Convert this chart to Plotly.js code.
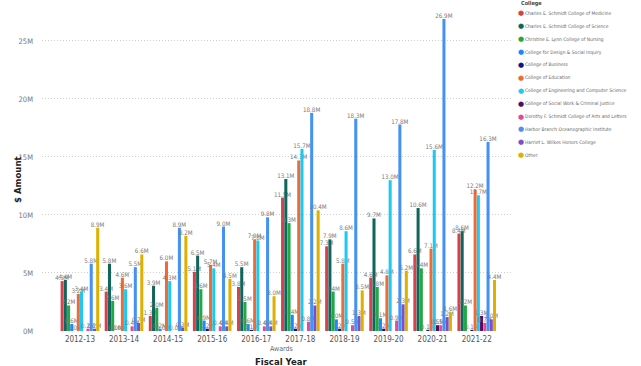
<!DOCTYPE html>
<html>
<head>
<meta charset="utf-8">
<script src="https://cdn.plot.ly/plotly-3.0.1.min.js"></script>
<style>
  html, body { margin: 0; padding: 0; background: #ffffff; }
  #chart { width: 641px; height: 366px; }
</style>
</head>
<body>
<div id="chart"></div>
<script>
// Fiscal years (categories)
const years = ['2012-13','2013-14','2014-15','2015-16','2016-17','2017-18','2018-19','2019-20','2020-21','2021-22'];

// Award amounts in millions of dollars, per college
const medicine    = [4.3, 3.4, 1.3, 5.1, 3.8, 11.5, 7.3, 4.6, 6.6, 8.4];
const science     = [4.4, 5.8, 3.9, 6.5, 5.5, 13.1, 7.9, 9.7, 10.6, 8.6];
const nursing     = [2.2, 2.6, 2.0, 3.6, 2.5, 9.3, 3.4, 3.8, 5.4, 2.2];
const design      = [0.6, 0.0, 0.2, 0.9, 0.6, 1.4, 1.0, 1.1, null, null];
const business    = [0.0, 0.0, 0.0, 0.2, 0.1, 0.2, 0.2, 0.2, 0.1, 0.1];
const education   = [3.2, 4.6, 6.0, 5.7, 7.9, 14.7, 5.8, 4.8, 7.1, 12.2];
const engineering = [3.4, 3.6, 4.3, 5.4, 7.8, 15.7, 8.6, 13.0, 15.6, 11.7];
const socialWork  = [null, null, null, null, null, null, null, null, 0.5, 1.3];
const artsLetters = [0.2, 0.4, 0.0, 0.4, 0.4, 0.8, 0.5, 0.9, 0.5, 0.7];
const harborBranch= [5.8, 5.5, 8.9, 9.0, 9.8, 18.8, 18.3, 17.8, 26.9, 16.3];
const honors      = [0.2, 0.7, 0.3, 0.4, 0.4, 2.2, 1.3, 2.3, 1.2, 1.0];
const other       = [8.9, 6.6, 8.2, 4.5, 3.0, 10.4, 3.5, 5.2, 1.6, 4.4];

// Y axis ticks
const yTickVals = [0, 5, 10, 15, 20, 25];
const yTickText = ['0M', '5M', '10M', '15M', '20M', '25M'];

const seriesNames = [
  'Charles E. Schmidt College of Medicine',
  'Charles E. Schmidt College of Science',
  'Christine E. Lynn College of Nursing',
  'College for Design & Social Inquiry',
  'College of Business',
  'College of Education',
  'College of Engineering and Computer Science',
  'College of Social Work & Criminal Justice',
  'Dorothy F. Schmidt College of Arts and Letters',
  'Harbor Branch Oceanographic Institute',
  'Harriet L. Wilkes Honors College',
  'Other'
];
const seriesValues = [medicine, science, nursing, design, business, education,
  engineering, socialWork, artsLetters, harborBranch, honors, other];
const seriesColors = ['#D9404A','#11665C','#1FA845','#1E86FF','#12128A','#F06A33',
  '#1DC9F2','#5A0A5E','#E8479A','#4592F2','#7B4FC6','#E0B000'];

const FONT = '"DejaVu Sans Condensed", "DejaVu Sans", sans-serif';

const traces = seriesNames.map((name, i) => ({
  type: 'bar',
  name: name,
  x: years,
  y: seriesValues[i],
  marker: { color: seriesColors[i] },
  texttemplate: '%{y:.1f}M',
  textposition: 'outside',
  textangle: 0,
  constraintext: 'none',
  cliponaxis: false,
  textfont: { family: FONT, size: 6.2, color: '#7a7a7a' },
  hoverinfo: 'x+y+name',
  showlegend: false
}));

// Plot area geometry (for placing the custom legend)
const L = 42, R = 129, T = 10, B = 35, W = 641, H = 366;
const pw = W - L - R, ph = H - T - B;
const px = v => (v - L) / pw;
const py = v => (H - B - v) / ph;

const annotations = [];
annotations.push({
  xref: 'paper', yref: 'paper', x: px(519), y: py(4), xanchor: 'left', yanchor: 'middle',
  text: '<b>College</b>', showarrow: false,
  font: { family: FONT, size: 5.5, color: '#444' }
});
seriesNames.forEach((name, i) => {
  const yy = 13.3 + 12.9 * i;
  annotations.push({
    xref: 'paper', yref: 'paper', x: px(516), y: py(yy), xanchor: 'left', yanchor: 'middle',
    text: '●', showarrow: false,
    font: { family: 'DejaVu Sans', size: 7, color: seriesColors[i] }
  });
  annotations.push({
    xref: 'paper', yref: 'paper', x: px(523), y: py(yy), xanchor: 'left', yanchor: 'middle',
    text: name, showarrow: false,
    font: { family: FONT, size: 4.9, color: '#666' }
  });
});
annotations.push({
  xref: 'paper', yref: 'paper', x: px(281), y: py(349), xanchor: 'center', yanchor: 'middle',
  text: 'Awards', showarrow: false,
  font: { family: FONT, size: 7, color: '#666' }
});
annotations.push({
  xref: 'paper', yref: 'paper', x: px(281), y: py(361), xanchor: 'center', yanchor: 'middle',
  text: '<b>Fiscal Year</b>', showarrow: false,
  font: { family: FONT, size: 9.5, color: '#222' }
});
annotations.push({
  xref: 'paper', yref: 'paper', x: px(17), y: py(180), xanchor: 'center', yanchor: 'middle',
  text: '<b>$ Amount</b>', textangle: -90, showarrow: false,
  font: { family: FONT, size: 9.5, color: '#222' }
});

const layout = {
  width: W, height: H,
  margin: { l: L, r: R, t: T, b: B, pad: 0 },
  paper_bgcolor: '#ffffff', plot_bgcolor: '#ffffff',
  barmode: 'group', bargap: 0.12, bargroupgap: 0.06,
  showlegend: false,
  font: { family: FONT, color: '#666' },
  xaxis: {
    type: 'category', range: [-0.86, 9.8],
    showgrid: false, zeroline: false, showline: false, ticks: '',
    tickfont: { family: FONT, size: 8, color: '#555' },
    ticklabelstandoff: 2
  },
  yaxis: {
    range: [0, 27.67], tickmode: 'array', tickvals: yTickVals, ticktext: yTickText,
    showgrid: true, gridcolor: '#cfcfcf', griddash: '1px,2px', gridwidth: 1,
    zeroline: false, showline: false, ticks: '',
    tickfont: { family: FONT, size: 7.5, color: '#777' },
    ticklabelstandoff: 8
  },
  annotations: annotations
};

Plotly.newPlot('chart', traces, layout, { displayModeBar: false, staticPlot: true });
</script>
</body>
</html>
